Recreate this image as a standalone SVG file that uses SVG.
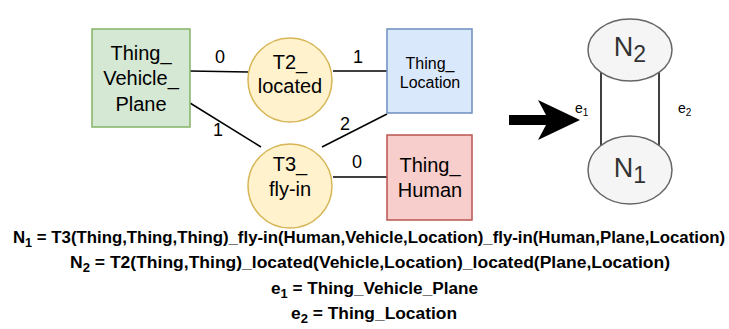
<svg xmlns="http://www.w3.org/2000/svg" width="729" height="329" viewBox="0 0 729 329">
<style>
.lbl{font-family:"Liberation Sans",Arial,sans-serif;font-size:20px;fill:#000;text-anchor:middle}
.sm{font-size:16px}
.edge{stroke:#000;stroke-width:1.5;fill:none}
.num{font-family:"Liberation Sans",Arial,sans-serif;font-size:18px;fill:#000;text-anchor:middle}
.cap{font-family:"Liberation Sans",Arial,sans-serif;font-size:16px;font-weight:bold;fill:#000}
.nt{font-family:"Liberation Sans",Arial,sans-serif;font-size:27px;fill:#333;text-anchor:middle}
.et{font-family:"Liberation Sans",Arial,sans-serif;font-size:14px;fill:#000}
</style>
<rect width="729" height="329" fill="#fff"/>
<g id="connectors">
<line class="edge" x1="190" y1="71" x2="248" y2="72"/>
<line class="edge" x1="333" y1="71" x2="387" y2="71"/>
<line class="edge" x1="190" y1="103" x2="261" y2="147"/>
<line class="edge" x1="322" y1="147" x2="387" y2="114"/>
<line class="edge" x1="333" y1="177" x2="387" y2="177"/>
<text class="num" x="220" y="63">0</text>
<text class="num" x="358" y="63">1</text>
<text class="num" x="218" y="136">1</text>
<text class="num" x="345" y="130">2</text>
<text class="num" x="357" y="168">0</text>
<line class="edge" x1="601" y1="71" x2="601" y2="146"/>
<line class="edge" x1="659" y1="71" x2="659" y2="146"/>
<text class="et" x="575" y="113">e<tspan font-size="10" dy="3">1</tspan></text>
<text class="et" x="678" y="113">e<tspan font-size="10" dy="3">2</tspan></text>
</g>
<g id="vehicle">
<rect x="92" y="29" width="98" height="98" fill="#d5e8d4" stroke="#82b366" stroke-width="1.5"/>
<text class="lbl" x="141" y="60">Thing_</text>
<text class="lbl" x="141" y="85">Vehicle_</text>
<text class="lbl" x="141" y="111">Plane</text>
</g>
<g id="t2">
<circle cx="290" cy="80" r="42" fill="#fff2cc" stroke="#d6b656" stroke-width="1.5"/>
<text class="lbl" x="290" y="69">T2_</text>
<text class="lbl" x="290" y="93">located</text>
</g>
<g id="location">
<rect x="387" y="29" width="85" height="84" fill="#dae8fc" stroke="#6c8ebf" stroke-width="1.5"/>
<text class="lbl sm" x="430" y="69">Thing_</text>
<text class="lbl sm" x="430" y="88">Location</text>
</g>
<g id="t3">
<circle cx="290" cy="186" r="42" fill="#fff2cc" stroke="#d6b656" stroke-width="1.5"/>
<text class="lbl" x="290" y="171">T3_</text>
<text class="lbl" x="290" y="196">fly-in</text>
</g>
<g id="human">
<rect x="387" y="135" width="85" height="85" fill="#f8cecc" stroke="#b85450" stroke-width="1.5"/>
<text class="lbl" x="430" y="172">Thing_</text>
<text class="lbl" x="430" y="197">Human</text>
</g>
<g id="arrow">
<polygon points="509,115 546,115 538,100 580,120 538,140 546,125 509,125" fill="#000"/>
</g>
<g id="n2">
<ellipse cx="630" cy="50" rx="42" ry="31" fill="#f5f5f5" stroke="#666" stroke-width="1.5"/>
<text class="nt" x="630" y="56">N<tspan font-size="23" dy="6">2</tspan></text>
</g>
<g id="n1">
<ellipse cx="630" cy="170" rx="42" ry="34" fill="#f5f5f5" stroke="#666" stroke-width="1.5"/>
<text class="nt" x="630" y="177">N<tspan font-size="23" dy="6">1</tspan></text>
</g>
<g id="caption">
<text class="cap" x="13" y="243" textLength="712" lengthAdjust="spacingAndGlyphs">N<tspan font-size="12" dy="4">1</tspan><tspan dy="-4"> = T3(Thing,Thing,Thing)_fly-in(Human,Vehicle,Location)_fly-in(Human,Plane,Location)</tspan></text>
<text class="cap" x="70" y="268" textLength="600" lengthAdjust="spacingAndGlyphs">N<tspan font-size="12" dy="4">2</tspan><tspan dy="-4"> = T2(Thing,Thing)_located(Vehicle,Location)_located(Plane,Location)</tspan></text>
<text class="cap" x="271" y="294" textLength="207" lengthAdjust="spacingAndGlyphs">e<tspan font-size="12" dy="4">1</tspan><tspan dy="-4"> = Thing_Vehicle_Plane</tspan></text>
<text class="cap" x="291" y="319" textLength="166" lengthAdjust="spacingAndGlyphs">e<tspan font-size="12" dy="4">2</tspan><tspan dy="-4"> = Thing_Location</tspan></text>
</g>
</svg>
